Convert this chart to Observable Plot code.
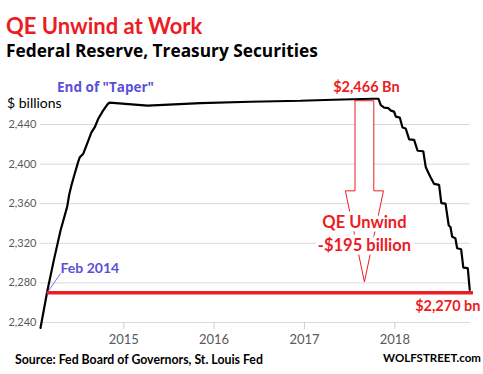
<!DOCTYPE html>
<html>
<head>
<meta charset="utf-8">
<script src="https://cdn.jsdelivr.net/npm/d3@7"></script>
<script src="https://cdn.jsdelivr.net/npm/@observablehq/plot@0.6"></script>
<style>
  html, body { margin: 0; padding: 0; background: #fff; }
  #wrap { position: relative; width: 483px; height: 374px; font-family: Lato, "Open Sans", sans-serif; overflow: hidden; }
  .abs { position: absolute; white-space: nowrap; line-height: 1; }
  #title { left: 6px; top: 14.5px; font-size: 22px; font-weight: bold; color: #ec1c24; }
  #subtitle { left: 6px; top: 41.9px; font-size: 17.3px; font-weight: bold; color: #000; font-family: "Open Sans", sans-serif; }
  #unit { left: 7px; top: 96px; font-size: 14px; color: #000; }
  #source { left: 15px; top: 354px; font-size: 12.3px; font-weight: bold; color: #000; }
  #brand { left: 383px; top: 352px; font-size: 11.5px; font-weight: bold; color: #000; }
  #chart { position: absolute; left: 0; top: 62px; }
</style>
</head>
<body>
<div id="wrap">
  <div id="title" class="abs">QE Unwind at Work</div>
  <div id="subtitle" class="abs">Federal Reserve, Treasury Securities</div>
  <div id="unit" class="abs">$ billions</div>
  <div id="chart"></div>
  <div id="source" class="abs">Source: Fed Board of Governors, St. Louis Fed</div>
  <div id="brand" class="abs">WOLFSTREET.com</div>
</div>
<script>
// ---- data ($ billions) ----
const dates = [
  "2014-01-29","2014-02-25","2014-03-24","2014-04-20","2014-05-17","2014-05-25",
  "2014-06-03","2014-06-16","2014-06-30","2014-07-07","2014-07-21","2014-08-03",
  "2014-08-23","2014-09-05","2014-09-19","2014-10-09","2014-10-29","2014-11-04",
  "2015-04-07","2015-11-07","2016-05-27","2016-12-15","2017-04-28","2017-10-02",
  "2017-10-27","2017-11-05","2017-11-19","2017-12-06","2017-12-16","2017-12-29",
  "2018-01-05","2018-01-21","2018-02-01","2018-02-14","2018-02-28","2018-03-20",
  "2018-04-03","2018-04-26","2018-05-06","2018-05-16","2018-05-26","2018-06-09",
  "2018-06-29","2018-07-08","2018-07-25","2018-08-07","2018-08-14","2018-08-21",
  "2018-09-03","2018-09-10","2018-09-26","2018-10-05","2018-10-23","2018-10-31"
];
const values = [
  2234.5, 2271, 2303, 2333, 2357, 2369,
  2378.5, 2390, 2402, 2407, 2410.5, 2419,
  2432, 2437, 2445.5, 2454, 2461, 2462,
  2459, 2461.5, 2463, 2464, 2465, 2466,
  2466, 2459.5, 2457, 2456.5, 2454, 2453,
  2448, 2447, 2437, 2436, 2425, 2424.5,
  2413.5, 2413, 2397, 2391.5, 2386.5, 2380,
  2379, 2360.5, 2360, 2338, 2336.5, 2326.5,
  2325, 2315, 2314, 2295.5, 2295, 2273
];
const yTicks = [2240, 2280, 2320, 2360, 2400, 2440];
const xTickYears = ["2015-01-01", "2016-01-01", "2017-01-01", "2018-01-01"];
const xDomain = ["2014-01-29", "2018-11-03"];
const yDomain = [2240, 2440];

const peakValue = 2466;
const floorValue = 2270;
const floorStart = "2014-02-25";
const floorEnd = "2018-11-15";
const taperEnd = "2014-10-29";
const unwindDrop = 195;

// arrow annotation (data space)
const arrowDate = "2017-08-31";
const arrowTop = 2464;
const arrowNeck = 2373;
const arrowTip = 2281;
const shaftHalfDays = 38;
const headHalfDays = 77;

// ---- build ----
const parse = d3.utcParse("%Y-%m-%d");
const series = dates.map((d, i) => ({date: parse(d), value: values[i]}));
const addDays = (d, n) => d3.utcDay.offset(parse(d), n);

const arrowPts = [
  [addDays(arrowDate, -shaftHalfDays), arrowTop],
  [addDays(arrowDate, shaftHalfDays), arrowTop],
  [addDays(arrowDate, shaftHalfDays), arrowNeck],
  [addDays(arrowDate, headHalfDays), arrowNeck],
  [parse(arrowDate), arrowTip],
  [addDays(arrowDate, -headHalfDays), arrowNeck],
  [addDays(arrowDate, -shaftHalfDays), arrowNeck],
  [addDays(arrowDate, -shaftHalfDays), arrowTop]
].map(([date, value]) => ({date, value}));

const RED = "#ec1c24";
const BLUE = "#5a50d8";
const FONT = "Lato, 'Open Sans', sans-serif";

const febAnchor = {date: parse(floorStart), value: floorValue};
const febLabel = {date: addDays(floorStart, 54), value: floorValue + 19.6};

const chart = Plot.plot({
  width: 483,
  height: 286,
  marginLeft: 40,
  marginRight: 13,
  marginTop: 62,
  marginBottom: 26,
  style: {fontFamily: FONT, background: "transparent", overflow: "visible"},
  x: {type: "utc", domain: xDomain.map(parse)},
  y: {domain: yDomain},
  marks: [
    Plot.gridY(yTicks, {stroke: "#d9d9d9", strokeOpacity: 1, strokeWidth: 1}),
    Plot.axisY(yTicks, {tickSize: 0, tickPadding: 4, tickFormat: d3.format(","), fontSize: 11, fill: "#595959", label: null}),
    Plot.axisX(xTickYears.map(parse), {tickSize: 7, tickPadding: 5, tickFormat: d3.utcFormat("%Y"), fontSize: 13, fill: "#595959", stroke: "#c8d0da", label: null}),
    Plot.line(arrowPts, {x: "date", y: "value", fill: "white", stroke: RED, strokeWidth: 1, curve: "linear"}),
    Plot.text([{date: parse(arrowDate), value: 2340.5, t: "QE Unwind"}, {date: parse(arrowDate), value: 2318, t: `-$${unwindDrop} billion`}],
      {x: "date", y: "value", text: "t", fill: RED, stroke: "white", strokeWidth: 7, paintOrder: "stroke", fontSize: 16.5, fontWeight: "bold", textAnchor: "middle", lineAnchor: "middle"}),
    Plot.line(series, {x: "date", y: "value", stroke: "black", strokeWidth: 2.2, curve: "linear", strokeLinejoin: "miter"}),
    Plot.ruleY([floorValue], {x1: parse(floorStart), x2: parse(floorEnd), stroke: RED, strokeWidth: 3.5}),
    Plot.link([0], {x1: febAnchor.date, y1: febAnchor.value, x2: febLabel.date, y2: febLabel.value, stroke: BLUE, strokeWidth: 0.8}),
    Plot.text([febLabel], {x: "date", y: "value", text: () => "Feb 2014", fill: BLUE, fontSize: 14, fontWeight: "bold", textAnchor: "start", lineAnchor: "middle", dy: -5}),
    Plot.text([{date: parse(taperEnd), value: peakValue}], {x: "date", y: "value", text: () => 'End of "Taper"', fill: BLUE, fontFamily: "'Open Sans', sans-serif", fontSize: 13.5, fontWeight: "bold", textAnchor: "middle", lineAnchor: "middle", dx: -2.5, dy: -11}),
    Plot.text([{date: parse(arrowDate), value: peakValue}], {x: "date", y: "value", text: d => `$${d3.format(",")(d.value)} Bn`, fill: RED, fontSize: 14.5, fontWeight: "bold", textAnchor: "middle", lineAnchor: "middle", dx: 2, dy: -11}),
    Plot.text([{date: parse(xDomain[1]), value: floorValue}], {x: "date", y: "value", text: d => `$${d3.format(",")(d.value)} bn`, fill: RED, fontSize: 14.5, fontWeight: "bold", textAnchor: "end", lineAnchor: "middle", dx: 10, dy: 14})
  ]
});
document.getElementById("chart").appendChild(chart);
</script>
</body>
</html>
